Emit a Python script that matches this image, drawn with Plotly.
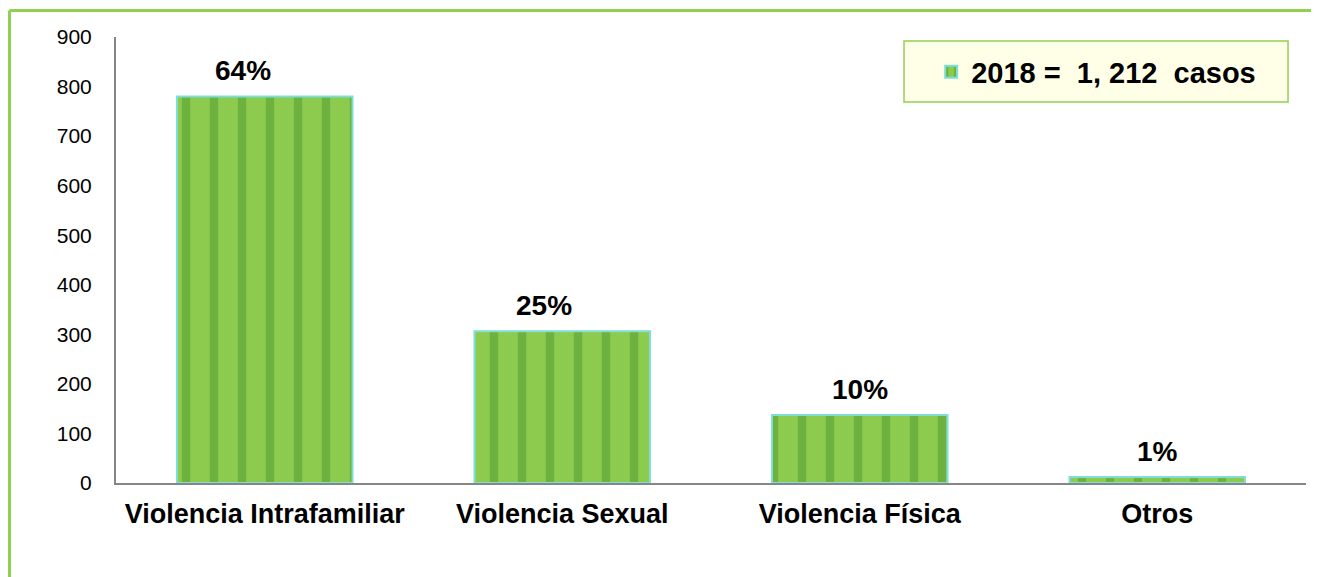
import plotly.graph_objects as go

categorias = ["Violencia Intrafamiliar", "Violencia Sexual", "Violencia Física", "Otros"]
casos = [780, 306, 137, 12]
porcentajes = ["64%", "25%", "10%", "1%"]
serie = "2018 =\u00a0 1, 212\u00a0 casos"

verde = "#92D050"
font = "Arial, Liberation Sans, sans-serif"

fig = go.Figure()

fig.add_trace(go.Bar(
    x=categorias,
    y=casos,
    name=f"<b>{serie}</b>",
    marker=dict(
        color="#7CC242",
        line=dict(color="#80DED8", width=2),
        pattern=dict(shape="|", fgcolor="#4E9A2E", bgcolor="#8CCB4E",
                     size=28, solidity=0.3),
    ),
    hoverinfo="x+y",
))

# etiquetas de porcentaje (movidas un poco como en el original)
desplazamiento = [-22, -18, 0, 0]
for cat, val, pct, dx in zip(categorias, casos, porcentajes, desplazamiento):
    fig.add_annotation(
        x=cat, y=val, text=f"<b>{pct}</b>",
        showarrow=False, yanchor="bottom", yshift=8, xshift=dx,
        font=dict(size=28, color="black", family=font),
    )

# marco verde
fig.add_shape(type="line", xref="paper", yref="paper",
              x0=-0.0895, x1=1.02, y0=1.0594, y1=1.0594,
              line=dict(color=verde, width=3))
fig.add_shape(type="line", xref="paper", yref="paper",
              x0=-0.0895, x1=-0.0895, y0=1.0594, y1=-0.25,
              line=dict(color=verde, width=3))

# caja de la leyenda
fig.add_shape(type="rect", xref="paper", yref="paper",
              x0=0.6622, x1=0.9849, y0=0.8543, y1=0.9910,
              fillcolor="#FFFFE8", line=dict(color=verde, width=1.5),
              layer="below")

fig.update_layout(
    width=1311,
    height=569,
    margin=dict(l=108, r=13, t=29, b=94),
    plot_bgcolor="white",
    paper_bgcolor="white",
    bargap=0.41,
    showlegend=True,
    legend=dict(
        x=0.685, y=0.9215, xanchor="left", yanchor="middle",
        bgcolor="rgba(0,0,0,0)",
        font=dict(size=29, color="black", family=font),
        itemwidth=30,
    ),
    xaxis=dict(
        showline=True, linecolor="#868686", linewidth=2,
        ticks="", ticklabelstandoff=6,
        tickfont=dict(size=27, color="black", family=font),
        tickprefix="<b>", ticksuffix="</b>",
    ),
    yaxis=dict(
        range=[0, 900], dtick=100,
        showline=True, linecolor="#868686", linewidth=2,
        showgrid=False, zeroline=False, ticks="",
        ticklabelstandoff=18,
        tickfont=dict(size=21, color="black", family=font),
    ),
)

fig.write_html("out.html")
